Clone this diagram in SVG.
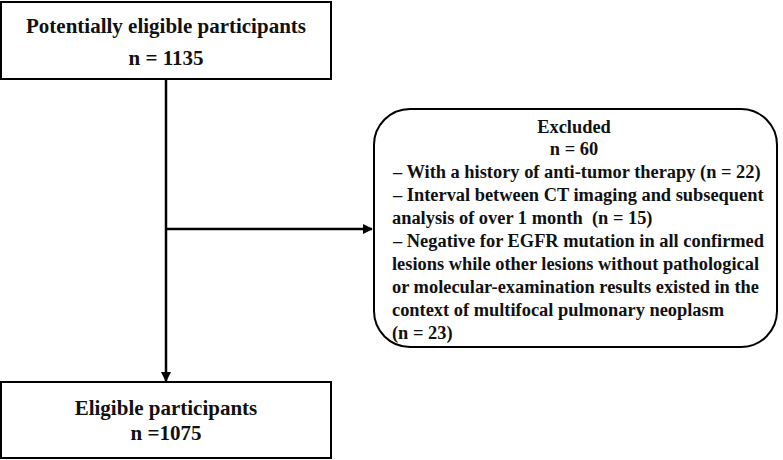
<svg xmlns="http://www.w3.org/2000/svg" width="783" height="460" viewBox="0 0 783 460">
<defs>
<style>
.box{fill:#fff;stroke:#000;stroke-width:2}
.t{font-family:"Liberation Serif","Times New Roman",serif;font-weight:bold;font-size:18.4px;fill:#111}
.b{font-size:21px}
.c{text-anchor:middle}
.ln{stroke:#000;stroke-width:2.5;fill:none}
</style>
<marker id="ah" markerWidth="10" markerHeight="10" refX="9" refY="5" orient="auto" markerUnits="userSpaceOnUse" viewBox="0 0 10 10">
<path d="M0,0 L10,5 L0,10 z" fill="#000"/>
</marker>
</defs>
<rect width="783" height="460" fill="#fff"/>
<g id="connectors">
<line class="ln" x1="166" y1="79" x2="166" y2="381" marker-end="url(#ah)"/>
<line class="ln" x1="166" y1="229" x2="372" y2="229" marker-end="url(#ah)"/>
</g>
<g id="potential">
<rect class="box" x="1" y="2" width="330" height="77"/>
<text class="t b c" x="166" y="33">Potentially eligible participants</text>
<text class="t b c" x="166" y="65">n = 1135</text>
</g>
<g id="excluded">
<rect class="box" x="374" y="109" width="403" height="238" rx="36" ry="36"/>
<text class="t c" x="574" y="133">Excluded</text>
<text class="t c" x="574" y="155">n = 60</text>
<text class="t" x="393" y="178">– With a history of anti-tumor therapy (n = 22)</text>
<text class="t" x="393" y="201">– Interval between CT imaging and subsequent</text>
<text class="t" x="392" y="224" xml:space="preserve" style="white-space:pre">analysis of over 1 month  (n = 15)</text>
<text class="t" x="393" y="247">– Negative for EGFR mutation in all confirmed</text>
<text class="t" x="392" y="270">lesions while other lesions without pathological</text>
<text class="t" x="392" y="293">or molecular-examination results existed in the</text>
<text class="t" x="392" y="316">context of multifocal pulmonary neoplasm</text>
<text class="t" x="392" y="339">(n = 23)</text>
</g>
<g id="eligible">
<rect class="box" x="1" y="382" width="330" height="76"/>
<text class="t b c" x="166" y="415">Eligible participants</text>
<text class="t b c" x="166" y="440">n =1075</text>
</g>
</svg>
